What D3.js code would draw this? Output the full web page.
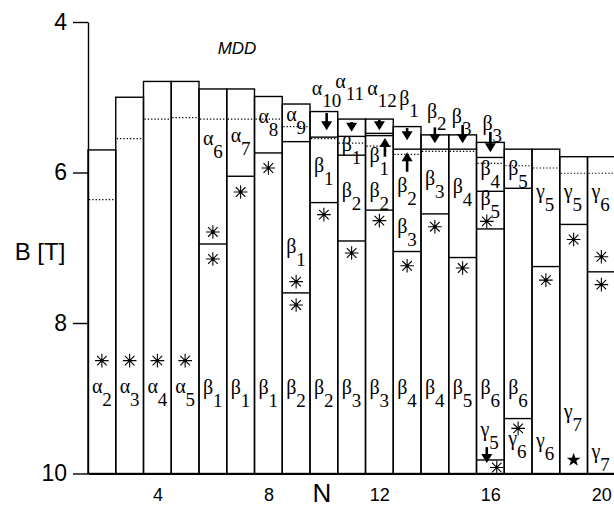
<!DOCTYPE html>
<html>
<head>
<meta charset="utf-8">
<script src="https://cdn.jsdelivr.net/npm/d3@7"></script>
<style>
  body { margin: 0; background: #fff; }
</style>
</head>
<body>
<div id="chart"></div>
<script>
// columns N = 2..20 : top edge and dotted level of every column (B in T)
var colN = [2, 3, 4, 5, 6, 7, 8, 9, 10, 11, 12, 13, 14, 15, 16, 17, 18, 19, 20];
var colTop = [5.70, 5.00, 4.79, 4.79, 4.89, 4.89, 4.99, 5.09, 5.19, 5.29, 5.29, 5.39, 5.50, 5.50, 5.60, 5.69, 5.69, 5.79, 5.79];
var colDot = [6.36, 5.55, 5.29, 5.27, 5.29, 5.29, 5.29, 5.39, 5.55, 5.61, 5.65, 5.76, 5.72, 5.72, 5.88, 5.91, 5.94, 6.01, 6.01];

// solid boundaries inside the columns [N, B]
var dividers = [
  [6, 6.95], [7, 6.05], [8, 5.74], [9, 5.59], [9, 7.60], [10, 5.53], [10, 6.40],
  [11, 5.52], [11, 5.77], [11, 6.91], [12, 5.48], [12, 5.51], [12, 6.50],
  [13, 5.69], [13, 7.05], [14, 5.69], [14, 6.55], [15, 5.69], [15, 7.13],
  [16, 5.80], [16, 6.25], [16, 6.75], [16, 9.82], [17, 6.21], [17, 9.27],
  [18, 7.25], [19, 6.69], [20, 7.32]
];

// asterisk markers [N, B]
var stars = [
  [2, 8.50], [3, 8.50], [4, 8.50], [5, 8.50], [6, 6.79], [6, 7.15], [7, 6.26], [8, 5.94],
  [9, 7.45], [9, 7.76], [10, 6.56], [11, 7.07], [12, 6.64], [13, 7.24], [14, 6.72],
  [15, 7.27], [15.87, 6.65], [16.23, 9.92], [17, 9.40], [18, 7.43], [19, 6.89],
  [20, 7.12], [20, 7.49]
];
var filledStars = [[19, 9.82]];

// state labels inside the columns [N, B of baseline, letter, subscript]
var stateLabels = [
  [2, 8.93, "α", "2"], [3, 8.93, "α", "3"], [4, 8.93, "α", "4"], [5, 8.93, "α", "5"],
  [6, 8.94, "β", "1"], [7, 8.94, "β", "1"], [8, 8.94, "β", "1"], [9, 8.94, "β", "2"],
  [10, 8.94, "β", "2"], [11, 8.94, "β", "3"], [12, 8.94, "β", "3"], [13, 8.94, "β", "4"],
  [14, 8.94, "β", "4"], [15, 8.94, "β", "5"], [16, 8.94, "β", "6"], [17, 8.94, "β", "6"],
  [6, 5.63, "α", "6"], [7, 5.59, "α", "7"], [8, 5.34, "α", "8"], [9, 5.32, "α", "9"],
  [9, 7.07, "β", "1"], [10, 5.99, "β", "1"], [11, 5.71, "β", "1"], [11, 6.33, "β", "2"],
  [12, 5.86, "β", "1"], [12, 6.33, "β", "2"], [13, 6.26, "β", "2"], [13, 6.80, "β", "3"],
  [14, 6.17, "β", "3"], [15, 6.27, "β", "4"], [16, 6.03, "β", "4"], [16, 6.43, "β", "5"],
  [17, 6.03, "β", "5"], [18, 6.34, "γ", "5"], [19, 6.34, "γ", "5"], [20, 6.34, "γ", "6"],
  [16, 9.50, "γ", "5"], [17, 9.62, "γ", "6"], [18, 9.65, "γ", "6"], [19, 9.26, "γ", "7"],
  [20, 9.79, "γ", "7"]
];

// labels sitting above the column tops
var topLabels = [
  [9.85, 4.97, "α", "10"], [10.7, 4.88, "α", "11"], [11.85, 4.97, "α", "12"],
  [13, 5.10, "β", "1"], [14, 5.28, "β", "2"], [14.9, 5.34, "β", "3"], [16, 5.44, "β", "3"]
];

// arrows [N, B from, B to]
var arrows = [
  [10.1, 5.21, 5.44], [11, 5.33, 5.46], [12, 5.30, 5.44], [12.2, 5.79, 5.54],
  [13, 5.41, 5.57], [13, 5.99, 5.73], [14, 5.40, 5.61], [15, 5.37, 5.61],
  [16, 5.46, 5.73], [15.87, 9.65, 9.86]
];

var yTicks = [4, 6, 8, 10];
var xTicks = [4, 8, 12, 16, 20];

var chart_width = 614;
var chart_height = 508;
var sans = '"Liberation Sans", Arial, Helvetica, sans-serif';
var serif = '"Liberation Serif", "Times New Roman", serif';

var svg = d3
  .select('#chart')
  .append('svg')
  .attr('width', chart_width)
  .attr('height', chart_height);

var x_scale = d3.scaleLinear().domain([1.5, 20.5]).range([88, 615.25]);
var y_scale = d3.scaleLinear().domain([4, 10]).range([22, 473.5]);
var colW = x_scale(1) - x_scale(0);

// columns
svg.selectAll('rect.col')
  .data(colN)
  .enter()
  .append('rect')
  .attr('class', 'col')
  .attr('x', function(d) { return x_scale(d - 0.5); })
  .attr('y', function(d, i) { return y_scale(colTop[i]); })
  .attr('width', colW)
  .attr('height', function(d, i) { return y_scale(10) - y_scale(colTop[i]); })
  .attr('fill', 'none')
  .attr('stroke', '#000')
  .attr('stroke-width', 1.4);

// dotted levels
svg.selectAll('line.dot')
  .data(colN)
  .enter()
  .append('line')
  .attr('x1', function(d) { return x_scale(d - 0.5) + 1; })
  .attr('x2', function(d) { return x_scale(d + 0.5) - 1; })
  .attr('y1', function(d, i) { return y_scale(colDot[i]); })
  .attr('y2', function(d, i) { return y_scale(colDot[i]); })
  .attr('stroke', '#000')
  .attr('stroke-width', 1.2)
  .attr('stroke-dasharray', '1.3,2');

// solid dividers
svg.selectAll('line.div')
  .data(dividers)
  .enter()
  .append('line')
  .attr('x1', function(d) { return x_scale(d[0] - 0.5); })
  .attr('x2', function(d) { return x_scale(d[0] + 0.5); })
  .attr('y1', function(d) { return y_scale(d[1]); })
  .attr('y2', function(d) { return y_scale(d[1]); })
  .attr('stroke', '#000')
  .attr('stroke-width', 1.4);

// asterisks
function asterisk(r) {
  var k = r * 0.7071;
  return 'M' + (-r) + ',0L' + r + ',0M0,' + (-r) + 'L0,' + r +
    'M' + (-k) + ',' + (-k) + 'L' + k + ',' + k + 'M' + (-k) + ',' + k + 'L' + k + ',' + (-k);
}
var sg = svg.selectAll('g.star')
  .data(stars)
  .enter()
  .append('g')
  .attr('transform', function(d) { return 'translate(' + x_scale(d[0]) + ',' + y_scale(d[1]) + ')'; });
sg.append('path').attr('d', asterisk(6.8)).attr('stroke', '#000').attr('stroke-width', 1.1).attr('fill', 'none');
sg.append('circle').attr('r', 1.7).attr('fill', '#000');

svg.selectAll('path.fstar')
  .data(filledStars)
  .enter()
  .append('path')
  .attr('d', d3.symbol().type(d3.symbolStar).size(60))
  .attr('transform', function(d) { return 'translate(' + x_scale(d[0]) + ',' + y_scale(d[1]) + ')'; })
  .attr('fill', '#000');

// arrows
arrows.forEach(function(a) {
  var ax = x_scale(a[0]), y1 = y_scale(a[1]), y2 = y_scale(a[2]);
  var dir = y2 > y1 ? 1 : -1;
  svg.append('line')
    .attr('x1', ax).attr('x2', ax)
    .attr('y1', y1).attr('y2', y2 - dir * 6)
    .attr('stroke', '#000').attr('stroke-width', 2.6);
  svg.append('path')
    .attr('d', 'M' + (ax - 5.5) + ',' + (y2 - dir * 9) + 'L' + (ax + 5.5) + ',' + (y2 - dir * 9) + 'L' + ax + ',' + y2 + 'Z')
    .attr('fill', '#000');
});

// state labels
function drawLabels(list, dx, subDy) {
  var t = svg.selectAll(null)
    .data(list)
    .enter()
    .append('text')
    .attr('x', function(d) { return x_scale(d[0]) + dx; })
    .attr('y', function(d) { return y_scale(d[1]); })
    .attr('font-family', serif)
    .attr('font-size', 20)
    .attr('fill', '#000');
  t.append('tspan').text(function(d) { return d[2]; });
  t.append('tspan')
    .attr('dy', subDy)
    .attr('font-size', 19)
    .text(function(d) { return d[3]; });
}
drawLabels(stateLabels, -10, 13);
drawLabels(topLabels, -8, 12);

// axes
var yAxis = svg.append('g')
  .attr('transform', 'translate(88,0)')
  .call(d3.axisLeft(y_scale).tickValues(yTicks).tickFormat(d3.format('d'))
    .tickSize(15).tickSizeOuter(0).tickPadding(6));
yAxis.selectAll('text').attr('font-size', 23).attr('font-family', sans).attr('fill', '#000');
yAxis.selectAll('line, path').attr('stroke', '#000').attr('stroke-width', 1.4);

var xAxis = svg.append('g')
  .attr('transform', 'translate(0,' + y_scale(10) + ')')
  .call(d3.axisBottom(x_scale).tickValues(xTicks).tickFormat(d3.format('d'))
    .tickSize(0).tickSizeOuter(0).tickPadding(15));
xAxis.selectAll('text').attr('font-size', 18).attr('font-family', sans).attr('fill', '#000');
xAxis.select('path').attr('stroke', '#000').attr('stroke-width', 2);

// titles
svg.append('text')
  .attr('x', 322).attr('y', 502)
  .attr('text-anchor', 'middle')
  .attr('font-family', sans).attr('font-size', 26)
  .text('N');
svg.append('text')
  .attr('x', 40).attr('y', 260)
  .attr('text-anchor', 'middle')
  .attr('font-family', sans).attr('font-size', 24)
  .text('B [T]');
svg.append('text')
  .attr('x', 237).attr('y', 54)
  .attr('text-anchor', 'middle')
  .attr('font-family', sans).attr('font-size', 17).attr('font-style', 'italic')
  .text('MDD');
</script>
</body>
</html>
